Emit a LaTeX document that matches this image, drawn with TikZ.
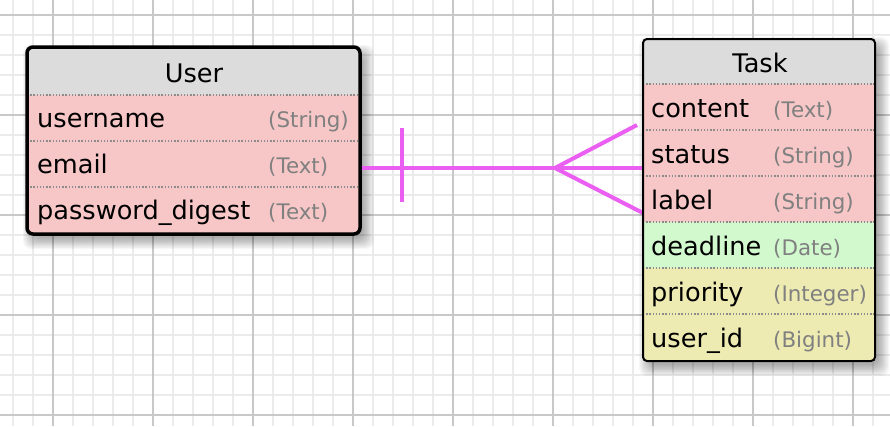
\documentclass[tikz,border=0pt]{standalone}
\usepackage{fontspec}
\setmainfont{DejaVu Sans}
\definecolor{hdrgray}{HTML}{DCDCDC}
\definecolor{rowpink}{HTML}{F7C7C7}
\definecolor{rowgreen}{HTML}{D2F9CE}
\definecolor{rowyellow}{HTML}{EEEBB2}
\definecolor{typegray}{HTML}{808080}
\definecolor{sepgray}{HTML}{8C8C8C}
\definecolor{relmag}{HTML}{EB5EF2}
\definecolor{gridminor}{HTML}{EBEBEB}
\definecolor{gridmajor}{HTML}{C8C8C8}
% soft shadow below and to the right of a table
\newcommand\tableshadow[4]{%
  \foreach \s in {1,...,10}{%
    \fill[black, opacity=0.035, rounded corners=8pt]
      ({#1+8-1.2*\s}, {#2+10-1.2*\s}) rectangle ({#3+2+1.2*\s}, {#4+3+1.2*\s});
  }%
}
\begin{document}
\begin{tikzpicture}[x=1pt, y=-1pt,
  cell/.style={inner sep=0pt, outer sep=0pt, anchor=north west, draw=none},
  frame/.style={inner sep=0pt, outer sep=0pt, anchor=north west, draw=black, fill=none},
  fname/.style={anchor=base west, inner sep=0pt, font=\fontsize{25.6}{30}\selectfont},
  ftitle/.style={anchor=base, inner sep=0pt, font=\fontsize{25.6}{30}\selectfont},
  ftype/.style={anchor=base west, inner sep=0pt, text=typegray, font=\fontsize{21.4}{26}\selectfont},
  sep/.style={draw=sepgray, line width=1.4pt, dash pattern=on 1.4pt off 1.8pt},
  rel/.style={draw=relmag, line width=4pt},
  minor/.style={draw=gridminor, line width=1.6pt},
  major/.style={draw=gridmajor, line width=1.6pt}]

\useasboundingbox (0,0) rectangle (890,426);
\fill[white] (0,0) rectangle (890,426);

% background grid
\foreach \x in {13,33,...,893} \draw[minor] (\x,0) -- (\x,426);
\foreach \y in {15,35,...,415} \draw[minor] (0,\y) -- (890,\y);
\foreach \x in {53,153,...,853} \draw[major] (\x,0) -- (\x,426);
\foreach \y in {15,115,...,415} \draw[major] (0,\y) -- (890,\y);

% soft drop shadows
\tableshadow{27}{47}{360}{234}
\tableshadow{643}{39}{875}{361}

% ---------- User ----------
\begin{scope}
  \clip[rounded corners=6pt] (27,47) rectangle (360,234);
  \node[cell, fill=hdrgray, minimum width=333pt, minimum height=48pt] (u-head) at (27,47) {};
  \node[cell, fill=rowpink, minimum width=333pt, minimum height=46pt] (u-username) at (27,95) {};
  \node[cell, fill=rowpink, minimum width=333pt, minimum height=46pt] (u-email) at (27,141) {};
  \node[cell, fill=rowpink, minimum width=333pt, minimum height=47pt] (u-password) at (27,187) {};
\end{scope}
\draw[sep] (u-username.north west) -- (u-username.north east);
\draw[sep] (u-email.north west) -- (u-email.north east);
\draw[sep] (u-password.north west) -- (u-password.north east);

\node[ftitle] (u-title) at (194,82) {User};
\node[fname] (u-username-n) at (37,127) {username};
\node[ftype] (u-username-t) at (268,127) {(String)};
\node[fname] (u-email-n) at (37,173) {email};
\node[ftype] (u-email-t) at (268,173) {(Text)};
\node[fname] (u-password-n) at (37,219) {password\_digest};
\node[ftype] (u-password-t) at (268,219) {(Text)};

% ---------- Task ----------
\begin{scope}
  \clip[rounded corners=4pt] (643,39) rectangle (875,361);
  \node[cell, fill=hdrgray, minimum width=232pt, minimum height=45pt] (t-head) at (643,39) {};
  \node[cell, fill=rowpink, minimum width=232pt, minimum height=46pt] (t-content) at (643,84) {};
  \node[cell, fill=rowpink, minimum width=232pt, minimum height=46pt] (t-status) at (643,130) {};
  \node[cell, fill=rowpink, minimum width=232pt, minimum height=46pt] (t-label) at (643,176) {};
  \node[cell, fill=rowgreen, minimum width=232pt, minimum height=46pt] (t-deadline) at (643,222) {};
  \node[cell, fill=rowyellow, minimum width=232pt, minimum height=46pt] (t-priority) at (643,268) {};
  \node[cell, fill=rowyellow, minimum width=232pt, minimum height=47pt] (t-userid) at (643,314) {};
\end{scope}
\foreach \r in {t-content,t-status,t-label,t-deadline,t-priority,t-userid}
  \draw[sep] (\r.north west) -- (\r.north east);

\node[ftitle] (t-title) at (760,72) {Task};
\node[fname] (t-content-n) at (651,117) {content};
\node[ftype] (t-content-t) at (773,117) {(Text)};
\node[fname] (t-status-n) at (651,163) {status};
\node[ftype] (t-status-t) at (773,163) {(String)};
\node[fname] (t-label-n) at (651,209) {label};
\node[ftype] (t-label-t) at (773,209) {(String)};
\node[fname] (t-deadline-n) at (651,255) {deadline};
\node[ftype] (t-deadline-t) at (773,255) {(Date)};
\node[fname] (t-priority-n) at (651,301) {priority};
\node[ftype] (t-priority-t) at (773,301) {(Integer)};
\node[fname] (t-userid-n) at (651,347) {user\_id};
\node[ftype] (t-userid-t) at (773,347) {(Bigint)};

% ---------- one-to-many relation ----------
\coordinate (rel-start) at (360,168);
\coordinate (rel-apex) at (555,168);
\coordinate (rel-tick-top) at (402,128);
\coordinate (rel-tick-bot) at (402,202);
\coordinate (rel-foot-a) at (637,125);
\coordinate (rel-foot-b) at (643,168);
\coordinate (rel-foot-c) at (643,213);
\draw[rel] (rel-start) -- (rel-apex);
\draw[rel] (rel-tick-top) -- (rel-tick-bot);
\draw[rel] (rel-apex) -- (rel-foot-a);
\draw[rel] (rel-apex) -- (rel-foot-b);
\draw[rel] (rel-apex) -- (rel-foot-c);

% table outlines
\node[frame, line width=3.5pt, rounded corners=6pt, minimum width=333pt, minimum height=187pt] (user) at (27,47) {};
\node[frame, line width=2pt, rounded corners=4pt, minimum width=232pt, minimum height=322pt] (task) at (643,39) {};
\end{tikzpicture}
\end{document}
